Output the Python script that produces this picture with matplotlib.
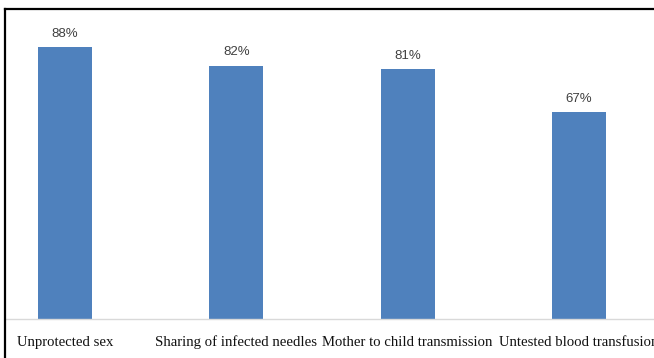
import matplotlib
matplotlib.use("Agg")
import matplotlib.pyplot as plt
from matplotlib.lines import Line2D

categories = ["Unprotected sex", "Sharing of infected needles",
              "Mother to child transmission", "Untested blood transfusion"]
percentages = [88, 82, 81, 67]

W, H = 654, 358
fig = plt.figure(figsize=(W / 100, H / 100), dpi=100)

# axes placement in pixel terms
x_left_px, x_right_px = 6, 654
y_base_px, y_top_px = 319, 10
ax = fig.add_axes([x_left_px / W, 1 - y_base_px / H,
                   (x_right_px - x_left_px) / W, (y_base_px - y_top_px) / H])

px_per_cat = 171.3
first_center_px = 65
ax.set_xlim((x_left_px - first_center_px) / px_per_cat,
            (x_right_px - first_center_px) / px_per_cat)
ax.set_ylim(0, 100)

xs = list(range(len(categories)))
bars = ax.bar(xs, percentages, width=0.315, color="#4F81BD", zorder=2)

for x, v in zip(xs, percentages):
    ax.annotate(f"{v}%", (x, v), xytext=(0, 9.5), textcoords="offset points",
                ha="center", va="center", fontsize=9.5,
                family="Liberation Sans", color="#404040")

ax.set_xticks(xs)
ax.set_xticklabels(categories, family="Liberation Serif", fontsize=10.6,
                   color="#111111")
ax.tick_params(axis="x", length=0, pad=19.5)
for lbl in ax.get_xticklabels():
    lbl.set_verticalalignment("baseline")
ax.set_yticks([])
for side in ("top", "left", "right"):
    ax.spines[side].set_visible(False)
ax.spines["bottom"].set_color("#D9D9D9")
ax.spines["bottom"].set_linewidth(1.0)
ax.spines["bottom"].set_zorder(3)

# outer frame (top and left edges)
fig.add_artist(Line2D([5.5 / W, 1], [1 - 8.5 / H, 1 - 8.5 / H],
                      transform=fig.transFigure, color="black", lw=1.6))
fig.add_artist(Line2D([5.5 / W, 5.5 / W], [0, 1 - 8.5 / H],
                      transform=fig.transFigure, color="black", lw=1.6))

fig.savefig("out.png", dpi=100)
